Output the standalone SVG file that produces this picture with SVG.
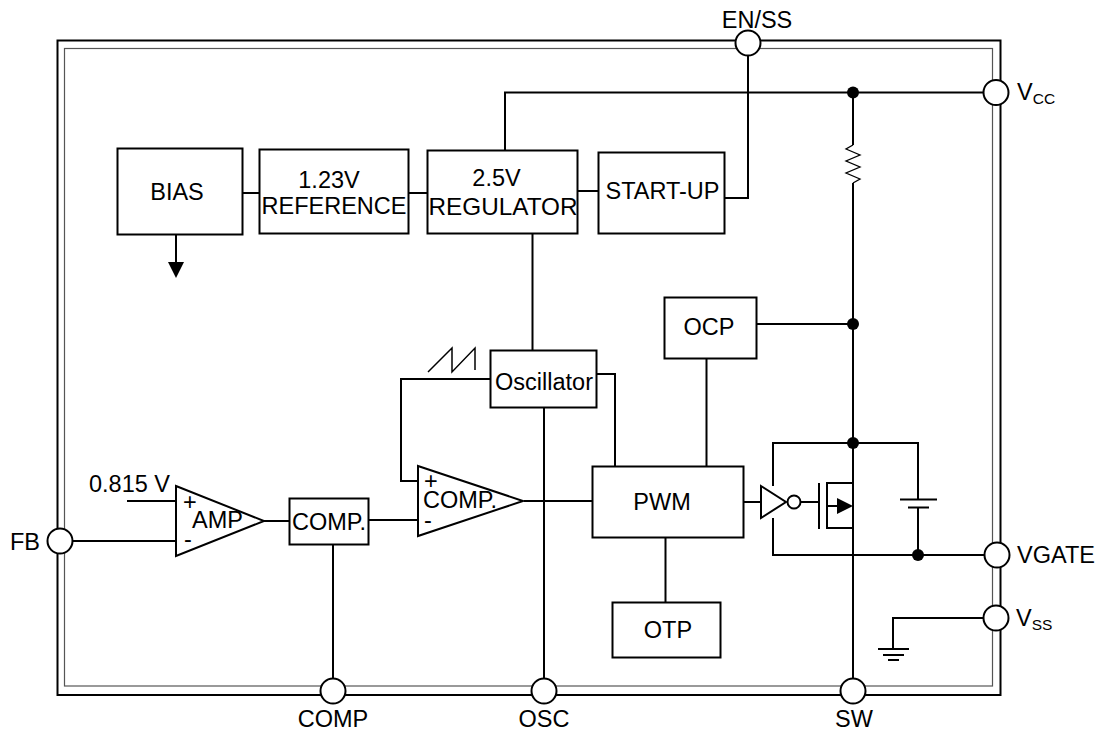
<svg xmlns="http://www.w3.org/2000/svg" width="1103" height="729" viewBox="0 0 1103 729">
<style>
text{font-family:"Liberation Sans",Arial,sans-serif;font-size:23.500px;fill:#000}
.b{fill:#fff;stroke:#000;stroke-width:2}
.w{fill:none;stroke:#000;stroke-width:2}
.t{fill:none;stroke:#000;stroke-width:1.300}
.p{fill:#fff;stroke:#000;stroke-width:2}
.d{fill:#000}
.m{text-anchor:middle}
</style>
<rect width="1103" height="729" fill="#fff"/>
<g id="frame"><rect x="57.500" y="40.500" width="943" height="654.500" fill="none" stroke="#000" stroke-width="2"/><rect x="64.500" y="48.500" width="928" height="637.500" fill="none" stroke="#555" stroke-width="1.200"/></g>
<g id="connectors">
<path class="w" d="M505 150V92.500H984M748 55V198H725M853 92V145M853 183V528M853 528H827V483H853M853 528V679M757 324H853M532.500 234V350M544 408V679M490 379H401V481H418M597 374H615V466M706.500 358V466M333 545V679M73 541H176M127 501H176M264 521H289M368 520H418M524 501H592M744 502H761M800 502H819M665.500 538V603M773 486V443H918V499M773 518V555H985M918 507V555M984 618H893V649"/>
<path class="w" d="M242 193H259M408 193H427M577 191H598"/>
<path class="t" d="M853 145L846 149L860 155L846 161L860 167L846 173L860 179L853 183"/>
<path class="w" d="M878 649H909M883 655H904M888 660H899"/>
<path class="w" d="M900 499.500H937M908 507.500H929"/>
<path class="w" d="M176 234V264"/>
<polygon class="d" points="168,262 184,262 176,278"/>
<path class="w" style="stroke-width:1.500" d="M428 372L452 348V372L475 348V370"/>
</g>
<g id="bias"><rect class="b" x="117.500" y="148.500" width="125" height="86"/><text class="m" x="177" y="200">BIAS</text></g>
<g id="reference"><rect class="b" x="259.500" y="149.500" width="149" height="84"/><text class="m" x="329" y="188">1.23V</text><text class="m" x="334" y="214">REFERENCE</text></g>
<g id="regulator"><rect class="b" x="427.500" y="150.500" width="150" height="83"/><text class="m" x="496.500" y="186">2.5V</text><text class="m" x="503" y="215" style="font-size:24.300px">REGULATOR</text></g>
<g id="startup"><rect class="b" x="598.500" y="152.500" width="126" height="81"/><text class="m" x="662.500" y="199">START-UP</text></g>
<g id="ocp"><rect class="b" x="664.500" y="297.500" width="92" height="61"/><text class="m" x="709" y="335">OCP</text></g>
<g id="oscillator"><rect class="b" x="490.500" y="350.500" width="106" height="57"/><text class="m" x="544" y="390">Oscillator</text></g>
<g id="pwm"><rect class="b" x="592.500" y="466.500" width="151" height="71"/><text class="m" x="662" y="510">PWM</text></g>
<g id="otp"><rect class="b" x="612.500" y="602.500" width="108" height="55"/><text class="m" x="668" y="638">OTP</text></g>
<g id="comp-block"><rect class="b" x="289.500" y="498.500" width="79" height="46"/><text class="m" x="329" y="530">COMP.</text></g>
<g id="amp"><polygon class="b" points="176,486 264,521 176,556"/><text x="183" y="510">+</text><text x="184" y="547">-</text><text x="192" y="528">AMP</text></g>
<g id="comparator"><polygon class="b" points="418,466 523,501 418,536"/><text x="424" y="489">+</text><text x="424" y="528">-</text><text x="423" y="508">COMP.</text></g>
<g id="dots"><circle class="d" cx="853" cy="92.500" r="6"/><circle class="d" cx="853" cy="324" r="6"/><circle class="d" cx="853" cy="443" r="6"/><circle class="d" cx="918" cy="555" r="6"/></g>
<g id="mosfet"><path class="w" d="M819 483V529M827 506H840"/><polygon class="d" points="837,498 853,506 837,514"/></g>
<g id="inverter"><polygon class="b" points="761,486 786,502 761,518"/><circle class="b" cx="794" cy="502" r="6.500"/></g>
<g id="pin-en"><circle class="p" cx="748" cy="43" r="12.500"/><text class="m" x="757" y="28">EN/SS</text></g>
<g id="pin-vcc"><circle class="p" cx="996" cy="92.500" r="12.500"/><text x="1017" y="100">V<tspan font-size="15.500" dy="4">CC</tspan></text></g>
<g id="pin-vgate"><circle class="p" cx="997" cy="555" r="12.500"/><text x="1017" y="563">VGATE</text></g>
<g id="pin-vss"><circle class="p" cx="996" cy="618" r="12.500"/><text x="1016" y="626">V<tspan font-size="15.500" dy="4">SS</tspan></text></g>
<g id="pin-fb"><circle class="p" cx="60" cy="541" r="12.500"/><text x="10" y="550">FB</text></g>
<g id="pin-comp"><circle class="p" cx="333" cy="691" r="12.500"/><text class="m" x="333" y="727">COMP</text></g>
<g id="pin-osc"><circle class="p" cx="544" cy="691" r="12.500"/><text class="m" x="544" y="727">OSC</text></g>
<g id="pin-sw"><circle class="p" cx="853" cy="691" r="12.500"/><text class="m" x="854" y="727">SW</text></g>
<text x="89" y="492">0.815 V</text>
</svg>
